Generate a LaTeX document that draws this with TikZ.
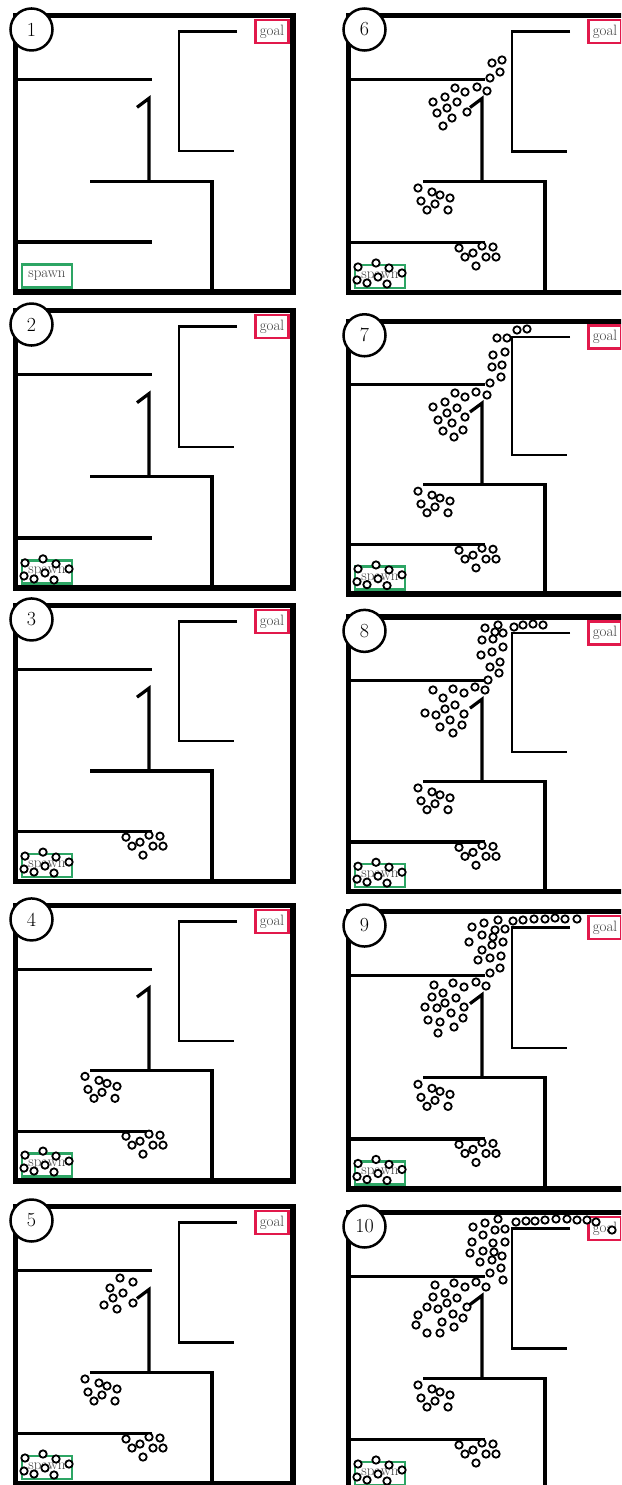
\documentclass[tikz,border=0pt]{standalone}
\definecolor{goalred}{RGB}{225,25,75}
\definecolor{spawngreen}{RGB}{45,165,100}
\tikzset{
 outerwall/.style={line width=5.5pt, line join=miter},
 wall/.style={line width=3.2pt},
 thinwall/.style={line width=2.3pt},
 agent/.style={draw=black, fill=white, line width=1.8pt},
 goalbox/.style={draw=goalred, fill=white, line width=2.6pt, minimum width=33pt, minimum height=23pt, inner sep=0.5pt, font=\fontsize{15}{15}\selectfont, text=black!75},
 spawnbox/.style={draw=spawngreen, fill=white, line width=2.6pt, minimum width=50pt, minimum height=23pt, inner sep=0.5pt, font=\fontsize{15}{15}\selectfont, text=black!75},
 numcirc/.style={circle, draw=black, fill=white, line width=2.5pt, minimum size=42pt, inner sep=0pt, font=\fontsize{20}{20}\selectfont},
}
% #1 x0, #2 top, #3 bottom, #4 label
\newcommand\mazepanel[4]{%
 \pgfmathsetmacro\panelys{(#3-#2)/277}%
 \begin{scope}[shift={(#1,#2)}, yscale=\panelys]
  \draw[outerwall] (0,0) rectangle (277.5,277);
  \draw[wall] (0,64) -- (136.5,64);
  \draw[thinwall] (221.5,16) -- (163.5,16) -- (163.5,136) -- (218.5,136);
  \draw[wall] (121.5,92) -- (133.5,83) -- (133.5,166);
  \draw[wall] (74.5,166) -- (196.5,166) -- (196.5,277);
  \draw[wall] (0,227) -- (136.5,227);
  \node[goalbox] (goal#4) at (256.5,16) {goal};
  \node[spawnbox] (spawn#4) at (31.5,261) {spawn};
  \node[numcirc] (num#4) at (16,14) {#4};
 \end{scope}}
% #1 x origin, #2 top, #3 bottom, #4 list macro
\newcommand\agents[4]{%
 \pgfmathsetmacro\agentys{(#3-#2)/277}%
 \begin{scope}[shift={(#1,#2)}, yscale=\agentys]
  \foreach \ax/\ay in #4 {\draw[agent] (\ax,\ay) circle[radius=3.7];}
 \end{scope}}
\def\Sp{10/252,28/248,41/253,54/258,9/265,19/268,30/262,39/269}
\def\Cc{111/233,134/231,145/232,117/242,125/238,138/242,148/242,128/251}
\def\Bb{70/173,84/177,92/180,102/183,73/186,87/189,79/195,100/195}
\def\Ufive{105/73,118/77,95/83,108/88,98/93,118/98,89/100,102/104}
\def\Usix{156/45,146/48,154/57,144/63,131/72,119/77,109/73,141/76,99/82,87/87,111/87,101/93,121/97,91/98,106/103,97/111}
\def\Useven{171/8,181/7,151/16,161/16,147/33,159/30,146/45,156/43,144/61,155/55,141/73,130/70,119/75,109/71,99/80,87/85,111/86,101/91,119/95,92/98,106/101,97/109,117/108,108/115}
\def\Ueight{152/8,168/10,177/8,187/7,197/8,139/11,149/15,157/16,136/23,147/22,157/30,135/38,146/35,154/45,144/50,153/56,142/63,139/73,129/70,118/76,107/72,87/73,97/81,109/88,79/96,90/98,99/92,118/97,104/103,94/110,116/108,107/116}
\def\Unine{152/8,167/9,177/8,188/7,199/7,209/6,219/7,231/7,126/15,138/11,149/18,159/17,136/23,147/25,123/30,136/38,146/33,157/30,132/48,144/46,155/44,144/61,154/56,140/74,130/70,118/75,107/71,88/73,97/81,110/86,86/85,99/91,79/95,91/96,118/95,105/101,82/108,94/110,117/106,108/115,92/121}
\def\Uten{152/7,170/10,180/9,189/9,199/8,210/7,221/7,231/8,241/8,250/10,266/18,127/15,139/11,149/18,159/17,137/23,126/30,147/31,159/30,124/41,137/39,148/40,134/50,146/48,156/44,144/61,155/56,157/68,140/75,130/70,119/75,108/71,89/73,99/81,111/86,87/85,101/91,121/95,81/95,92/97,72/103,107/102,117/106,96/110,70/113,81/121,94/121,108/115}
\begin{document}
\begin{tikzpicture}[x=1pt,y=-1pt]
\useasboundingbox (0,0) rectangle (621,1485);
\clip (0,0) rectangle (621,1485);
\fill[white] (0,0) rectangle (621,1485);
% left column
\mazepanel{15.5}{15.5}{292}{1}
\mazepanel{15.5}{310.5}{588}{2}
\mazepanel{15.5}{605.5}{881.5}{3}
\mazepanel{15.5}{905.5}{1181}{4}
\mazepanel{15.5}{1206.5}{1483.5}{5}
% right column
\mazepanel{348.5}{15.5}{292.5}{6}
\mazepanel{348.5}{321.5}{594}{7}
\mazepanel{348.5}{617}{891.5}{8}
\mazepanel{348.5}{911.5}{1189}{9}
\mazepanel{348.5}{1212.5}{1489.5}{10}
% agents, left column
\agents{15}{310}{588}{\Sp}
\agents{15}{605}{881}{\Sp}
\agents{15}{605}{881}{\Cc}
\agents{15}{904}{1180}{\Sp}
\agents{15}{904}{1180}{\Cc}
\agents{15}{904}{1180}{\Bb}
\agents{15}{1206}{1483}{\Sp}
\agents{15}{1206}{1483}{\Cc}
\agents{15}{1206}{1483}{\Bb}
\agents{15}{1205}{1482}{\Ufive}
% agents, right column
\agents{348}{15}{292}{\Sp}
\agents{348}{15}{292}{\Cc}
\agents{348}{15}{292}{\Bb}
\agents{346}{15}{292}{\Usix}
\agents{348}{321}{593.5}{\Sp}
\agents{348}{321}{593.5}{\Cc}
\agents{348}{321}{593.5}{\Bb}
\agents{346}{322}{599}{\Useven}
\agents{348}{616.5}{891}{\Sp}
\agents{348}{616.5}{891}{\Cc}
\agents{348}{616.5}{891}{\Bb}
\agents{346}{617}{894}{\Ueight}
\agents{348}{911}{1188.5}{\Sp}
\agents{348}{911}{1188.5}{\Cc}
\agents{348}{911}{1188.5}{\Bb}
\agents{346}{912}{1189}{\Unine}
\agents{348}{1212}{1489}{\Sp}
\agents{348}{1212}{1489}{\Cc}
\agents{348}{1212}{1489}{\Bb}
\agents{346}{1212}{1489}{\Uten}
\end{tikzpicture}
\end{document}
